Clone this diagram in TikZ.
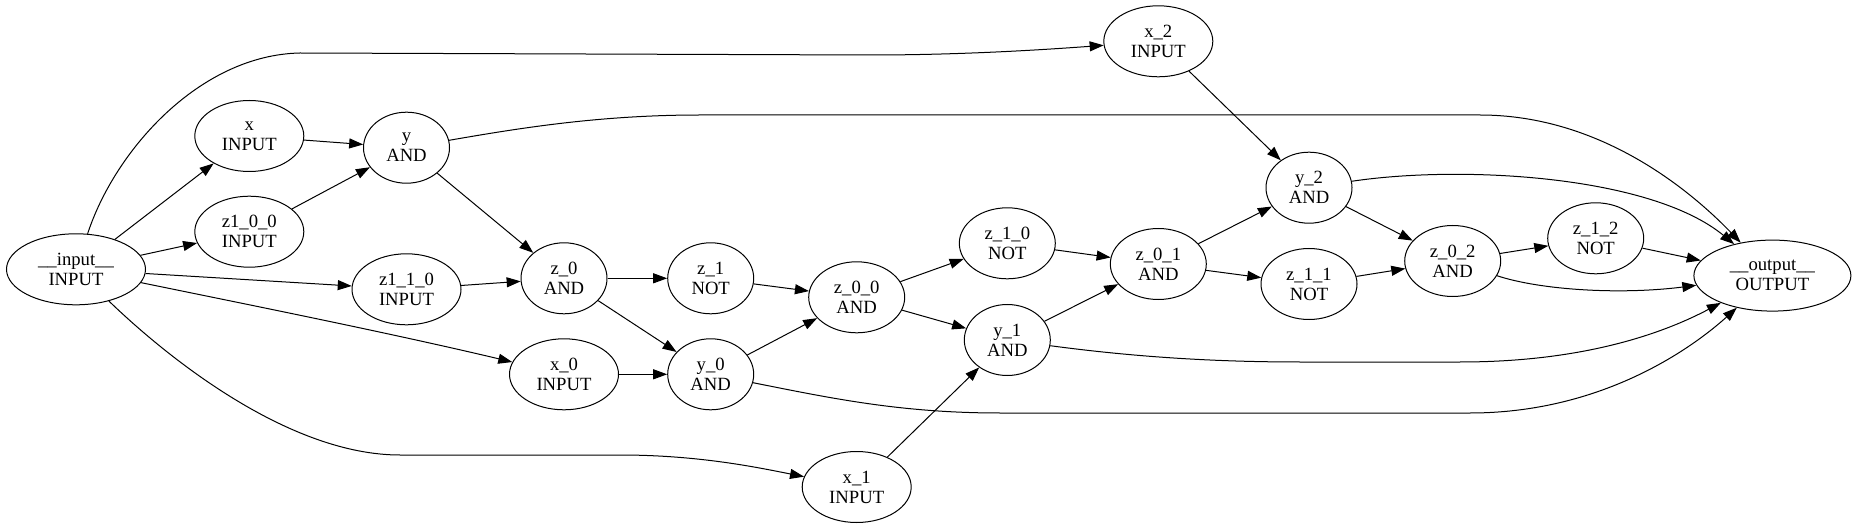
\documentclass[tikz,border=0pt]{standalone}
\usepackage{fontspec}
\setmainfont{Liberation Serif}
\usepackage{tikz}
\usetikzlibrary{arrows.meta,shapes.geometric}
\newcommand{\px}{0.75pt}
\newcommand{\nodeheight}{71*\px}
\newcommand{\linecolor}{black}

\begin{document}
\begin{tikzpicture}[x=0.75pt,y=-0.75pt,
  gate/.style={draw=\linecolor,line width=0.75pt,ellipse,inner sep=0pt,align=center,
    minimum height=\nodeheight,font=\fontsize{14pt}{15pt}\selectfont},
  inputgate/.style={gate,minimum width=109*\px},
  shortgate/.style={gate,minimum width=86*\px},
  longgate/.style={gate,minimum width=96*\px},
  edge/.style={draw=\linecolor,line width=0.75pt,-{Triangle[length=10.5pt,width=7.5pt]}}]
\useasboundingbox (0,0) rectangle (1856,527);
\node[gate] (in) at (76,269.3) [minimum width=139*\px] {\_\_input\_\_\\INPUT};
\node[inputgate] (x) at (249.3,136) {x\\INPUT};
\node[inputgate] (z100) at (249.3,231.7) {z1\_0\_0\\INPUT};
\node[shortgate] (y) at (406.5,147.7) {y\\AND};
\node[inputgate] (z110) at (406.5,289.3) {z1\_1\_0\\INPUT};
\node[shortgate] (z0) at (564,278.3) {z\_0\\AND};
\node[inputgate] (x0) at (564,374.3) {x\_0\\INPUT};
\node[shortgate] (z1) at (710.7,278.3) {z\_1\\NOT};
\node[shortgate] (y0) at (710.7,374.3) {y\_0\\AND};
\node[longgate] (z00) at (856.7,297.3) {z\_0\_0\\AND};
\node[inputgate] (x1) at (856.7,487) {x\_1\\INPUT};
\node[longgate] (z10) at (1007.3,243.3) {z\_1\_0\\NOT};
\node[shortgate] (y1) at (1007.3,340) {y\_1\\AND};
\node[inputgate] (x2) at (1158.3,41.3) {x\_2\\INPUT};
\node[longgate] (z01) at (1158.3,264) {z\_0\_1\\AND};
\node[shortgate] (y2) at (1309,187.7) {y\_2\\AND};
\node[longgate] (z11) at (1309,284) {z\_1\_1\\NOT};
\node[longgate] (z02) at (1452.7,261) {z\_0\_2\\AND};
\node[longgate] (z12) at (1595.7,238.3) {z\_1\_2\\NOT};
\node[gate] (out) at (1772.4,275.6) [minimum width=157*\px] {\_\_output\_\_\\OUTPUT};
%inputs
\draw[edge] (in) -- (x);
\draw[edge] (in) -- (z100);
\draw[edge] (in) -- (z110);
\draw[edge] (in) .. controls (250,305) and (390,333) .. (x0);
\draw[edge] (in) .. controls (115,150) and (200,55) .. (300,53) -- (870,55) .. controls (960,55) and (1040,50) .. (x2);
\draw[edge] (in) .. controls (170,360) and (290,455) .. (400,455) -- (620,455) .. controls (700,455) and (760,468) .. (x1);
%gates
\draw[edge] (x) -- (y);
\draw[edge] (z100) -- (y);
\draw[edge] (y) -- (z0);
\draw[edge] (z110) -- (z0);
\draw[edge] (z0) -- (z1);
\draw[edge] (z0) -- (y0);
\draw[edge] (x0) -- (y0);
\draw[edge] (z1) -- (z00);
\draw[edge] (y0) -- (z00);
\draw[edge] (z00) -- (z10);
\draw[edge] (z00) -- (y1);
\draw[edge] (x1) -- (y1);
\draw[edge] (z10) -- (z01);
\draw[edge] (y1) -- (z01);
\draw[edge] (x2) -- (y2);
\draw[edge] (z01) -- (y2);
\draw[edge] (z01) -- (z11);
\draw[edge] (y2) -- (z02);
\draw[edge] (z11) -- (z02);
\draw[edge] (z02) -- (z12);
%outputs
\draw[edge] (y) .. controls (520,128) and (600,115) .. (700,115) -- (1480,115) .. controls (1600,115) and (1690,190) .. (out);
\draw[edge] (y0) .. controls (830,398) and (900,413) .. (1000,413) -- (1470,413) .. controls (1600,413) and (1690,350) .. (out);
\draw[edge] (y1) .. controls (1120,355) and (1200,362) .. (1300,362) -- (1460,362) .. controls (1580,362) and (1660,335) .. (out);
\draw[edge] (y2) .. controls (1460,165) and (1650,175) .. (out);
\draw[edge] (z02) .. controls (1540,290) and (1620,295) .. (out);
\draw[edge] (z12) -- (out);
\end{tikzpicture}
\end{document}
